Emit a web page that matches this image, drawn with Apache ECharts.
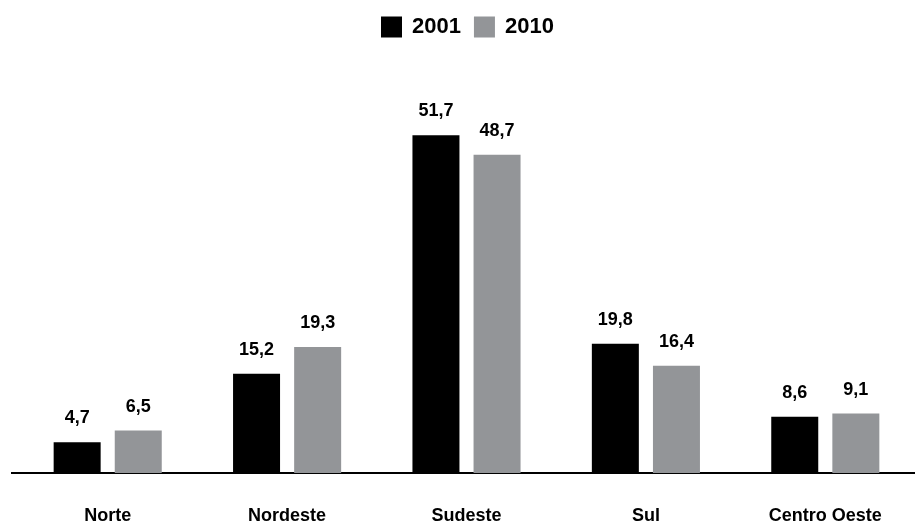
<!DOCTYPE html>
<html>
<head>
<meta charset="utf-8">
<script src="https://cdn.jsdelivr.net/npm/echarts@6/dist/echarts.min.js"></script>
<style>
  html, body { margin: 0; padding: 0; background: #fff; }
  #chart { width: 915px; height: 525px; }
</style>
</head>
<body>
<div id="chart"></div>
<script>
// Regional share (%) for 2001 and 2010
const regions = ['Norte', 'Nordeste', 'Sudeste', 'Sul', 'Centro Oeste'];
const values2001 = [4.7, 15.2, 51.7, 19.8, 8.6];
const values2010 = [6.5, 19.3, 48.7, 16.4, 9.1];
const seriesNames = ['2001', '2010'];

const FONT = '"Liberation Sans", Arial, sans-serif';
const fmt = p => String(p.value).replace('.', ',');

const chart = echarts.init(document.getElementById('chart'), null, { renderer: 'canvas' });

const labelStyle = {
  show: true,
  position: 'top',
  distance: 15,
  formatter: fmt,
  color: '#000',
  fontFamily: FONT,
  fontWeight: 'bold',
  fontSize: 18
};

chart.setOption({
  animation: false,
  backgroundColor: '#fff',
  legend: {
    data: seriesNames,
    left: 381,
    top: 16,
    padding: 0,
    itemWidth: 21,
    itemHeight: 21,
    itemGap: 13,
    icon: 'rect',
    textStyle: {
      color: '#000',
      fontFamily: FONT,
      fontWeight: 'bold',
      fontSize: 22,
      padding: [0, 0, 0, 5]
    }
  },
  grid: { left: 18, right: -2, top: 81, bottom: 51, containLabel: false },
  xAxis: {
    type: 'category',
    data: regions,
    axisLine: { show: true, lineStyle: { color: '#000', width: 2 } },
    axisTick: { show: false },
    axisLabel: {
      color: '#000',
      fontFamily: FONT,
      fontWeight: 'bold',
      fontSize: 18,
      margin: 34
    }
  },
  yAxis: {
    type: 'value',
    min: 0,
    max: 60,
    show: false,
    splitLine: { show: false }
  },
  series: [
    {
      name: seriesNames[0],
      type: 'bar',
      data: values2001,
      barWidth: 47,
      barGap: '30%',
      itemStyle: { color: '#000000' },
      label: labelStyle
    },
    {
      name: seriesNames[1],
      type: 'bar',
      data: values2010,
      barWidth: 47,
      barGap: '30%',
      itemStyle: { color: '#939598' },
      label: labelStyle
    }
  ]
});

// Baseline runs a little past the plot area on the left
const baseY = Math.round(chart.convertToPixel({ yAxisIndex: 0 }, 0));
chart.setOption({
  graphic: [{
    type: 'line',
    shape: { x1: 11, y1: baseY, x2: 20, y2: baseY },
    style: { stroke: '#000', lineWidth: 2 }
  }]
});
</script>
</body>
</html>
